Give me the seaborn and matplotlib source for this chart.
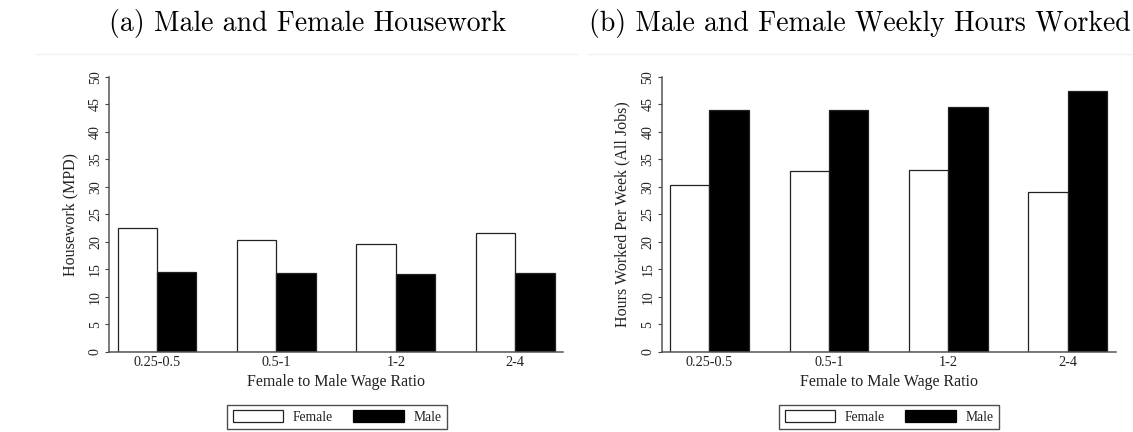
import matplotlib
matplotlib.use("Agg")
import matplotlib.pyplot as plt
import seaborn as sns
import pandas as pd
from matplotlib.lines import Line2D
from matplotlib.patches import Patch

# ---- data ----
categories = ["0.25-0.5", "0.5-1", "1-2", "2-4"]
housework_female = [22.5, 20.3, 19.6, 21.5]
housework_male = [14.5, 14.3, 14.1, 14.3]
hours_female = [30.4, 32.8, 33.0, 29.1]
hours_male = [43.9, 43.9, 44.5, 47.4]
y_ticks = [0, 5, 10, 15, 20, 25, 30, 35, 40, 45, 50]

titles = ["(a) Male and Female Housework", "(b) Male and Female Weekly Hours Worked"]
ylabels = ["Housework (MPD)", "Hours Worked Per Week (All Jobs)"]
xlabel = "Female to Male Wage Ratio"
series_names = ["Female", "Male"]

sns.set_theme(style="white")
plt.rcParams["font.family"] = ["Liberation Serif", "DejaVu Serif"]
plt.rcParams["axes.unicode_minus"] = False

W, H = 1133, 432
fig = plt.figure(figsize=(W / 100, H / 100), dpi=100)

def frac_x(px):
    return px / W

def frac_y(py):
    return 1 - py / H

axes_px = [(109.3, 563.0), (661.7, 1115.7)]
y_top, y_bot = 76.7, 351.7
title_cx = [307.5, 859.5]
legend_cx = [337.0, 889.0]

palette = {"Female": "white", "Male": "black"}
datasets = [(housework_female, housework_male), (hours_female, hours_male)]

for i, (fem, mal) in enumerate(datasets):
    x0, x1 = axes_px[i]
    ax = fig.add_axes([frac_x(x0), frac_y(y_bot), frac_x(x1 - x0), (y_bot - y_top) / H])
    df = pd.DataFrame({
        "ratio": categories * 2,
        "value": list(fem) + list(mal),
        "sex": [series_names[0]] * len(categories) + [series_names[1]] * len(categories),
    })
    sns.barplot(data=df, x="ratio", y="value", hue="sex", order=categories,
                hue_order=series_names, palette=palette, width=0.66,
                edgecolor="#222222", linewidth=0.9, saturation=1, ax=ax,
                legend=False, errorbar=None)
    ax.set_xlim(-0.40, 3.40)
    ax.set_ylim(0, 50)
    ax.set_yticks(y_ticks)
    ax.set_yticklabels([str(t) for t in y_ticks], rotation=90, va="center", ha="center")
    ax.tick_params(axis="y", which="both", left=True, length=3, width=0.8,
                   color="#444444", pad=7, labelsize=10, labelcolor="#222222")
    ax.tick_params(axis="x", which="both", bottom=False, length=0, pad=3,
                   labelsize=10.3, labelcolor="#222222")
    for s in ["top", "right"]:
        ax.spines[s].set_visible(False)
    for s in ["left", "bottom"]:
        ax.spines[s].set_color("#555555")
        ax.spines[s].set_linewidth(1.1)
    ax.set_facecolor("white")
    ax.grid(False)
    ax.set_xlabel(xlabel, fontsize=11.5, color="#222222")
    ax.xaxis.set_label_coords(0.5, -0.110)
    ax.xaxis.label.set_va("center")
    ax.set_ylabel(ylabels[i], fontsize=11.5, color="#222222")
    ax.yaxis.set_label_coords(-0.086, 0.5)
    ax.yaxis.label.set_va("center")

    fig.text(frac_x(title_cx[i]), frac_y(24), titles[i], fontfamily="cmr10",
             fontsize=20.0, ha="center", va="center", color="black")

    handles = [Patch(facecolor="white", edgecolor="#222222", linewidth=0.9),
               Patch(facecolor="black", edgecolor="black", linewidth=0.9)]
    leg = fig.legend(handles, series_names, loc="center",
                     bbox_to_anchor=(frac_x(legend_cx[i]), frac_y(417)),
                     ncol=2, fontsize=9.8, frameon=True, fancybox=False,
                     shadow=False, handlelength=3.7, handleheight=0.95,
                     handletextpad=0.7, columnspacing=1.5, borderpad=0.42)
    leg.get_frame().set_edgecolor("#222222")
    leg.get_frame().set_linewidth(1.0)
    for t in leg.get_texts():
        t.set_color("#222222")

# faint top borders of the two panels
fig.add_artist(Line2D([frac_x(36), frac_x(578)], [frac_y(54), frac_y(54)],
                      color="#f0f0f0", linewidth=1.0))
fig.add_artist(Line2D([frac_x(588), 1.0], [frac_y(54), frac_y(54)],
                      color="#f0f0f0", linewidth=1.0))

fig.savefig("out.png", dpi=100, facecolor="white")
